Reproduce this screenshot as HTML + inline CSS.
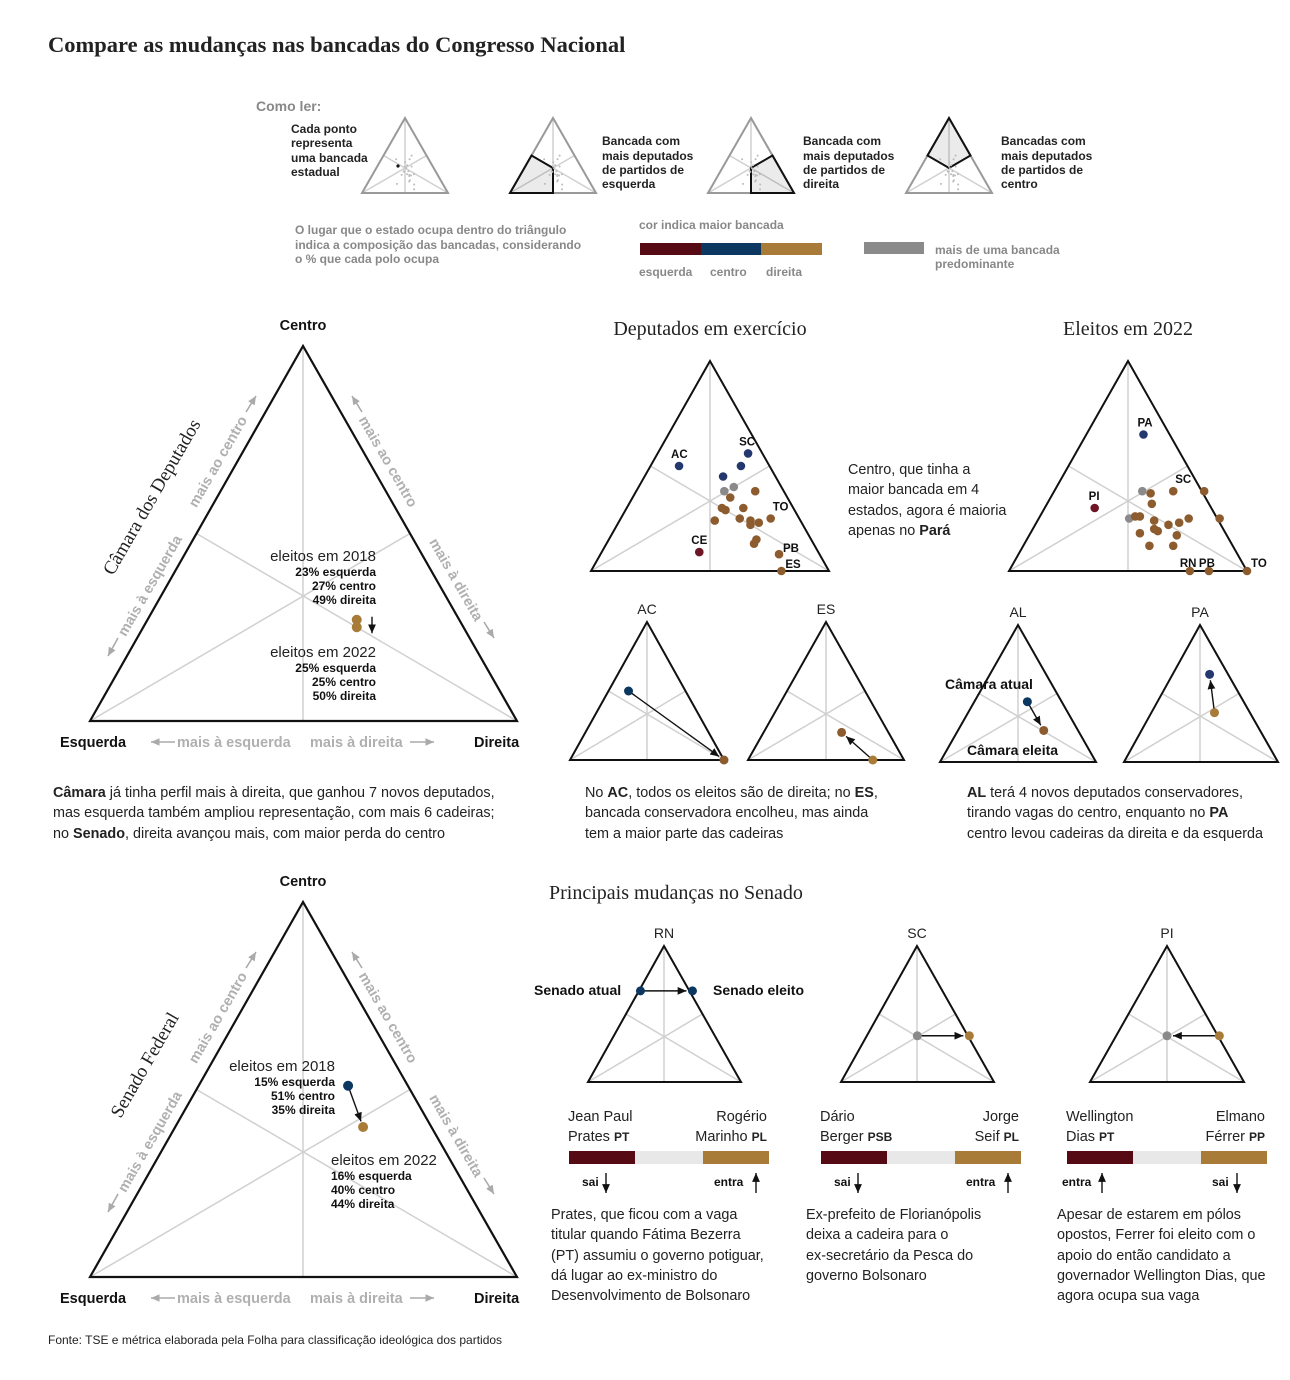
<!DOCTYPE html>
<html><head><meta charset="utf-8">
<style>
body{margin:0;background:#fff;width:1290px;height:1380px;overflow:hidden;position:relative;font-family:"Liberation Sans",sans-serif;color:#222}
.p{position:absolute;font-size:14.4px;line-height:20.3px;color:#222;white-space:nowrap}
svg{position:absolute;left:0;top:0}
</style></head><body>
<svg id="s" width="1290" height="1380" xmlns="http://www.w3.org/2000/svg">
<defs>
<marker id="ah" viewBox="0 0 10 10" refX="9" refY="5" markerWidth="7" markerHeight="7" orient="auto-start-reverse"><path d="M0,1 L9,5 L0,9 z" fill="#111"/></marker>
<marker id="ag" viewBox="0 0 10 10" refX="9" refY="5" markerWidth="6" markerHeight="6" orient="auto-start-reverse"><path d="M0,1 L9,5 L0,9 z" fill="#aaa"/></marker>
</defs>
<text x="48" y="52" font-family="Liberation Serif" font-weight="bold" font-size="22.5" fill="#222">Compare as mudanças nas bancadas do Congresso Nacional</text>
<text x="256" y="111" font-weight="bold" font-size="14" fill="#888">Como ler:</text>
<g id="legend" font-size="12" font-weight="bold" fill="#222">
<text x="291" y="133">Cada ponto</text><text x="291" y="147">representa</text><text x="291" y="162">uma bancada</text><text x="291" y="176">estadual</text>
<text x="602" y="145">Bancada com</text><text x="602" y="160">mais deputados</text><text x="602" y="174">de partidos de</text><text x="602" y="188">esquerda</text>
<text x="803" y="145">Bancada com</text><text x="803" y="160">mais deputados</text><text x="803" y="174">de partidos de</text><text x="803" y="188">direita</text>
<text x="1001" y="145">Bancadas com</text><text x="1001" y="160">mais deputados</text><text x="1001" y="174">de partidos de</text><text x="1001" y="188">centro</text>
</g>
<g font-size="12" font-weight="bold" fill="#888">
<text x="295" y="234">O lugar que o estado ocupa dentro do triângulo</text>
<text x="295" y="249">indica a composição das bancadas, considerando</text>
<text x="295" y="263">o % que cada polo ocupa</text>
<text x="639" y="229">cor indica maior bancada</text>
<text x="639" y="276">esquerda</text><text x="710" y="276">centro</text><text x="766" y="276">direita</text>
<text x="935" y="254">mais de uma bancada</text><text x="935" y="268">predominante</text>
</g>
<rect x="640" y="243" width="61" height="12" fill="#560a14"/>
<rect x="701" y="243" width="60" height="12" fill="#0b3760"/>
<rect x="761" y="243" width="61" height="12" fill="#a87c38"/>
<rect x="864" y="242" width="60" height="12" fill="#8a8a8a"/>

<g font-size="20" font-family="Liberation Serif" fill="#222">
<text x="710" y="335" text-anchor="middle">Deputados em exercício</text>
<text x="1128" y="335" text-anchor="middle">Eleitos em 2022</text>
<text x="549" y="899">Principais mudanças no Senado</text>
</g>
</svg>

<div class="p" style="left:53px;top:783px"><b>Câmara</b> já tinha perfil mais à direita, que ganhou 7 novos deputados,<br>mas esquerda também ampliou representação, com mais 6 cadeiras;<br>no <b>Senado</b>, direita avançou mais, com maior perda do centro</div>
<div class="p" style="left:585px;top:783px">No <b>AC</b>, todos os eleitos são de direita; no <b>ES</b>,<br>bancada conservadora encolheu, mas ainda<br>tem a maior parte das cadeiras</div>
<div class="p" style="left:967px;top:783px"><b>AL</b> terá 4 novos deputados conservadores,<br>tirando vagas do centro, enquanto no <b>PA</b><br>centro levou cadeiras da direita e da esquerda</div>
<div class="p" style="left:848px;top:460px">Centro, que tinha a<br>maior bancada em 4<br>estados, agora é maioria<br>apenas no <b>Pará</b></div>
<div class="p" style="left:551px;top:1205px">Prates, que ficou com a vaga<br>titular quando Fátima Bezerra<br>(PT) assumiu o governo potiguar,<br>dá lugar ao ex-ministro do<br>Desenvolvimento de Bolsonaro</div>
<div class="p" style="left:806px;top:1205px">Ex-prefeito de Florianópolis<br>deixa a cadeira para o<br>ex-secretário da Pesca do<br>governo Bolsonaro</div>
<div class="p" style="left:1057px;top:1205px">Apesar de estarem em pólos<br>opostos, Ferrer foi eleito com o<br>apoio do então candidato a<br>governador Wellington Dias, que<br>agora ocupa sua vaga</div>
<div class="p" style="left:48px;top:1330px;font-size:12px">Fonte: TSE e métrica elaborada pela Folha para classificação ideológica dos partidos</div>

<script>
// ---- data ----
const camaraLabels = ["eleitos em 2018","eleitos em 2022"];
const camaraEsq = [23, 25];
const camaraCen = [27, 25];
const camaraDir = [49, 50];
const senadoEsq = [15, 16];
const senadoCen = [51, 40];
const senadoDir = [35, 44];
// deputados em exercício: centro share, direita share, colour group, label
const exCen = [.50,.56,.50,.45,.40,.38,.35,.38,.30,.29,.30,.25,.24,.25,.24,.22,.23,.15,.13,.09,.08,0];
const exDir = [.12,.38,.38,.33,.40,.37,.41,.50,.40,.42,.49,.63,.40,.50,.55,.56,.59,.62,.62,.41,.75,.80];
const exGrp = ["c","c","c","c","m","m","d","d","d","d","d","d","d","d","d","d","d","d","d","e","d","d"];
const exLab = ["AC","SC","","","","","","","","","","TO","","","","","","","","CE","PB","ES"];
const elCen = [.65,.30,.38,.25,.38,.37,.38,.32,.26,.26,.24,.25,.25,.23,.22,.20,.19,.18,.17,.12,.12,0,0,0];
const elDir = [.24,.21,.37,.38,.50,.41,.63,.44,.40,.42,.49,.76,.63,.60,.56,.51,.53,.46,.62,.53,.63,.76,.84,1];
const elGrp = ["c","e","m","m","d","d","d","d","d","d","d","d","d","d","d","d","d","d","d","d","d","d","d","d"];
const elLab = ["PA","PI","","","SC","","","","","","","","","","","","","","","","","RN","PB","TO"];
// state changes: centro, direita shares at start and end
const stStates = ["AC","ES","AL","PA"];
const stFromC = [.50,0,.44,.36], stFromD = [.13,.80,.34,.41], stFromG=["c","d","c","d"];
const stToC = [0,.20,.23,.64], stToD = [1,.50,.55,.24], stToG=["d","d","d","c"];
const senStates = ["RN","SC","PI"];
const senFromC = [.67,.34,.34], senFromD = [.01,.33,.67], senFromG=["c","m","d"];
const senToC = [.67,.34,.34], senToD = [.35,.67,.33], senToG=["c","d","m"];

const COL={e:"#6e1526",c:"#24386f",d:"#8c5c2e",m:"#8a8a8a"};
const COL2={e:"#560a14",c:"#0b3760",d:"#a87c38",m:"#8a8a8a"};
const S=document.getElementById('s');
const NS="http://www.w3.org/2000/svg";
function mk(t,a,p){const e=document.createElementNS(NS,t);for(const k in a)e.setAttribute(k,a[k]);(p||S).appendChild(e);return e;}
function T(ax,ay,lx,rx,by){return {ax,ay,lx,rx,by};}
function pt(t,c,d){const e=1-c-d;return [e*t.lx+c*t.ax+d*t.rx, c*t.ay+(1-c)*t.by];}
function tri(t,sw,col,name){
  const g=mk('g',{});
  
  
  const mlx=(t.lx+t.ax)/2,mly=(t.ay+t.by)/2,mrx=(t.rx+t.ax)/2;
  mk('line',{x1:t.ax,y1:t.ay,x2:t.ax,y2:t.by,stroke:"#d0d0d0","stroke-width":1.5},g);
  mk('line',{x1:t.lx,y1:t.by,x2:mrx,y2:mly,stroke:"#d0d0d0","stroke-width":1.5},g);
  mk('line',{x1:t.rx,y1:t.by,x2:mlx,y2:mly,stroke:"#d0d0d0","stroke-width":1.5},g);
  mk('polygon',{points:`${t.ax},${t.ay} ${t.lx},${t.by} ${t.rx},${t.by}`,fill:"none",stroke:col||"#111","stroke-width":sw||2,"stroke-linejoin":"miter"},g);
  return g;
}
function dot(p,col,r){const c=mk('circle',{cx:p[0],cy:p[1],r:r||4.3,fill:col});

return c;}
function txt(x,y,s,o){const e=mk('text',Object.assign({x,y},o||{}));e.textContent=s;return e;}
function arrow(p,q){const dx=q[0]-p[0],dy=q[1]-p[1],L=Math.hypot(dx,dy),k=(L-6)/L;
const l=mk('line',{x1:p[0],y1:p[1],x2:p[0]+dx*k,y2:p[1]+dy*k,stroke:"#111","stroke-width":1.4,"marker-end":"url(#ah)"});

}
function garrow(x1,y1,x2,y2){mk('line',{x1,y1,x2,y2,stroke:"#aaa","stroke-width":1.6,"marker-end":"url(#ag)"});}

// legend mini triangles
const leg=[362,510,708,906];
const polys=[null,"L","R","C"];
leg.forEach((x,i)=>{const t=T(x+43,118,x,x+86,193);
  tri(t,2,"#999","legend-triangle");
  const mx=t.ax,cy=(t.by*2+t.ay)/3,ml=[(t.lx+t.ax)/2,(t.ay+t.by)/2],mr=[(t.rx+t.ax)/2,(t.ay+t.by)/2];
  let pts=null;
  if(polys[i]=="L")pts=`${t.lx},${t.by} ${ml[0]},${ml[1]} ${mx},${cy} ${mx},${t.by}`;
  if(polys[i]=="R")pts=`${t.rx},${t.by} ${mr[0]},${mr[1]} ${mx},${cy} ${mx},${t.by}`;
  if(polys[i]=="C")pts=`${t.ax},${t.ay} ${ml[0]},${ml[1]} ${mx},${cy} ${mr[0]},${mr[1]}`;
  if(pts){const pp=mk('polygon',{points:pts,fill:"rgba(0,0,0,0.08)",stroke:"#111","stroke-width":2,"stroke-linejoin":"miter"});
  
  }
  for(let k=0;k<exCen.length;k++){const p=pt(t,exCen[k]*0.8+0.05,exDir[k]*0.6+0.1);mk('circle',{cx:p[0],cy:p[1],r:1,fill:"#bbb"});}
  if(i==0)mk('circle',{cx:x+36,cy:166,r:1.6,fill:"#111"});
});

// big triangles
function bigTri(top,data,name,title,ann){
  const t=T(303,top,90,517,top+375);
  tri(t,2.2,"#111",name);
  txt(303,top-16,"Centro",{"text-anchor":"middle","font-weight":"bold","font-size":14.5,fill:"#111"});
  const by=top+375+26;
  txt(60,by,"Esquerda",{"font-weight":"bold","font-size":14.5,fill:"#111"});
  txt(474,by,"Direita",{"font-weight":"bold","font-size":14.5,fill:"#111"});
  txt(177,by,"mais à esquerda",{"font-size":14.5,"font-weight":"bold",fill:"#b0b0b0"});
  txt(310,by,"mais à direita",{"font-size":14.5,"font-weight":"bold",fill:"#b0b0b0"});
  garrow(175,by-5,151,by-5);
  garrow(410,by-5,434,by-5);
  const tt=txt(0,0,title,{"font-family":"Liberation Serif","font-size":19,fill:"#222",transform:`translate(${ann.tx},${ann.ty}) rotate(-60)`,"text-anchor":"middle"});
  
  
  const go={"font-size":14.5,"font-weight":"bold",fill:"#b0b0b0","text-anchor":"middle"};
  txt(0,0,"mais ao centro",Object.assign({transform:`translate(222,${top+118}) rotate(-60)`},go));
  txt(0,0,"mais à esquerda",Object.assign({transform:`translate(154,${top+242}) rotate(-60)`},go));
  txt(0,0,"mais ao centro",Object.assign({transform:`translate(384,${top+118}) rotate(60)`},go));
  txt(0,0,"mais à direita",Object.assign({transform:`translate(452,${top+236}) rotate(60)`},go));
  garrow(246,top+66,256,top+50);
  garrow(118,top+292,108,top+310);
  garrow(362,top+66,352,top+50);
  garrow(484,top+276,494,top+292);
  const p0=pt(t,data.c[0]/100,data.d[0]/100),p1=pt(t,data.c[1]/100,data.d[1]/100);
  const cls=[data.c[0]>data.d[0]?COL2.c:COL2.d, data.c[1]>data.d[1]?COL2.c:COL2.d];
  if(Math.abs(p1[1]-p0[1])>15) arrow(p0,p1); else mk('line',{x1:372,y1:p0[1]-3,x2:372,y2:p1[1]+6,stroke:"#111","stroke-width":1.4,"marker-end":"url(#ah)"});
  dot(p0,cls[0],5);dot(p1,cls[1],5);
  ann.blocks.forEach((b,i)=>{
    const a=b.anchor;
    const h=txt(b.x,b.y,camaraLabels[i],{"font-size":15,fill:"#222","text-anchor":a});
    
    
    const vals=[data.e[i]+"% esquerda",data.c[i]+"% centro",data.d[i]+"% direita"];
    vals.forEach((v,k)=>txt(b.vx,b.y+15+k*14,v,{"font-size":12,"font-weight":"bold",fill:"#111","text-anchor":a}));
  });
}
bigTri(346,{e:camaraEsq,c:camaraCen,d:camaraDir},"camara-triangle","Câmara dos Deputados",
  {tx:157,ty:500,blocks:[{x:376,vx:376,y:561,anchor:"end"},{x:376,vx:376,y:657,anchor:"end"}]});
bigTri(902,{e:senadoEsq,c:senadoCen,d:senadoDir},"senado-triangle","Senado Federal",
  {tx:150,ty:1068,blocks:[{x:335,vx:335,y:1071,anchor:"end"},{x:331,vx:331,y:1165,anchor:"start"}]});

// overview triangles
function overview(t,C,D,G,L,name){
  tri(t,2,"#111",name);
  for(let i=0;i<C.length;i++){const p=pt(t,C[i],D[i]);dot(p,COL[G[i]],4.3);
    if(L[i]){let dx=2,dy=-8,an="start";
      if(L[i]=="AC"||L[i]=="CE"){dx=-8;}
      if(L[i]=="SC"&&name.indexOf('ex')>=0){dx=-9;}
      if(L[i]=="PA"||L[i]=="PI"){dx=-6;}
      if(L[i]=="RN"||L[i]=="PB"){dx=-10;dy=-4;}
      if(L[i]=="TO"&&C[i]==0){dx=4;dy=-4;}
      if(L[i]=="ES"){dx=4;dy=-3;}
      if(L[i]=="PB"&&C[i]>0){dx=4;dy=-2;}
      txt(p[0]+dx,p[1]+dy,L[i],{"font-size":11.5,"font-weight":"bold",fill:"#111","text-anchor":an});}
  }
}
overview(T(710,361,591,829,571),exCen,exDir,exGrp,exLab,"exercicio-triangle");
overview(T(1128,361,1009,1247,571),elCen,elDir,elGrp,elLab,"eleitos-triangle");

// state change triangles
const stTris=[T(647,622,570,724,760),T(826,622,748,904,760),T(1018,625,940,1096,762),T(1200,625,1124,1278,762)];
stStates.forEach((s,i)=>{const t=stTris[i];tri(t,2,"#111","state-triangle-"+s.toLowerCase());
  txt(t.ax,t.ay-8,s,{"text-anchor":"middle","font-size":14,fill:"#222"});
  const a=pt(t,stFromC[i],stFromD[i]),b=pt(t,stToC[i],stToD[i]);
  arrow(a,b);dot(a,COL2[stFromG[i]],4.5);dot(b,COL[stToG[i]],4.5);
});
txt(945,689,"Câmara atual",{"font-size":14,"font-weight":"bold",fill:"#111"});
txt(967,755,"Câmara eleita",{"font-size":14,"font-weight":"bold",fill:"#111"});

// senado triangles
const senTris=[T(664,946,588,741,1082),T(917,946,841,994,1082),T(1167,946,1090,1244,1082)];
const senNames=[["Jean Paul","Prates","PT","Rogério","Marinho","PL","sai","entra"],["Dário","Berger","PSB","Jorge","Seif","PL","sai","entra"],["Wellington","Dias","PT","Elmano","Férrer","PP","entra","sai"]];
const bxs=[569,821,1067];
senStates.forEach((s,i)=>{const t=senTris[i];tri(t,2,"#111","senate-triangle-"+s.toLowerCase());
  txt(t.ax,t.ay-8,s,{"text-anchor":"middle","font-size":14,fill:"#222"});
  const a=pt(t,senFromC[i],senFromD[i]),b=pt(t,senToC[i],senToD[i]);
  arrow(a,b);dot(a,COL2[senFromG[i]],4.5);dot(b,COL2[senToG[i]],4.5);
  const bx=bxs[i],n=senNames[i];
  const r1=mk('rect',{x:bx,y:1151,width:200,height:13,fill:"#e8e8e8"});
  
  
  mk('rect',{x:bx,y:1151,width:66,height:13,fill:COL2.e});
  mk('rect',{x:bx+134,y:1151,width:66,height:13,fill:COL2.d});
  txt(bx-1,1121,n[0],{"font-size":14.5,fill:"#222"});
  const l2=txt(bx-1,1141,n[1]+" ",{"font-size":14.5,fill:"#222"});
  const ts=mk('tspan',{"font-size":12,"font-weight":"bold"},l2);ts.textContent=n[2];
  txt(bx+198,1121,n[3],{"font-size":14.5,fill:"#222","text-anchor":"end"});
  const l4=txt(bx+198,1141,n[4]+" ",{"font-size":14.5,fill:"#222","text-anchor":"end"});
  const ts2=mk('tspan',{"font-size":12,"font-weight":"bold"},l4);ts2.textContent=n[5];
  const lsai=n[6]=="sai";
  txt(bx+(lsai?13:-5),1186,n[6],{"font-size":12,"font-weight":"bold",fill:"#111"});
  const ax1=bx+(lsai?37:35);
  mk('line',lsai?{x1:ax1,y1:1173,x2:ax1,y2:1193,stroke:"#111","stroke-width":1.4,"marker-end":"url(#ah)"}:{x1:ax1,y1:1193,x2:ax1,y2:1173,stroke:"#111","stroke-width":1.4,"marker-end":"url(#ah)"});
  const rsai=n[7]=="sai";
  txt(bx+145,1186,n[7],{"font-size":12,"font-weight":"bold",fill:"#111"});
  const ax2=bx+(rsai?170:187);
  mk('line',rsai?{x1:ax2,y1:1173,x2:ax2,y2:1193,stroke:"#111","stroke-width":1.4,"marker-end":"url(#ah)"}:{x1:ax2,y1:1193,x2:ax2,y2:1173,stroke:"#111","stroke-width":1.4,"marker-end":"url(#ah)"});
});
txt(534,995,"Senado atual",{"font-size":14,"font-weight":"bold",fill:"#111"});
txt(713,995,"Senado eleito",{"font-size":14,"font-weight":"bold",fill:"#111"});
</script>
</body></html>
